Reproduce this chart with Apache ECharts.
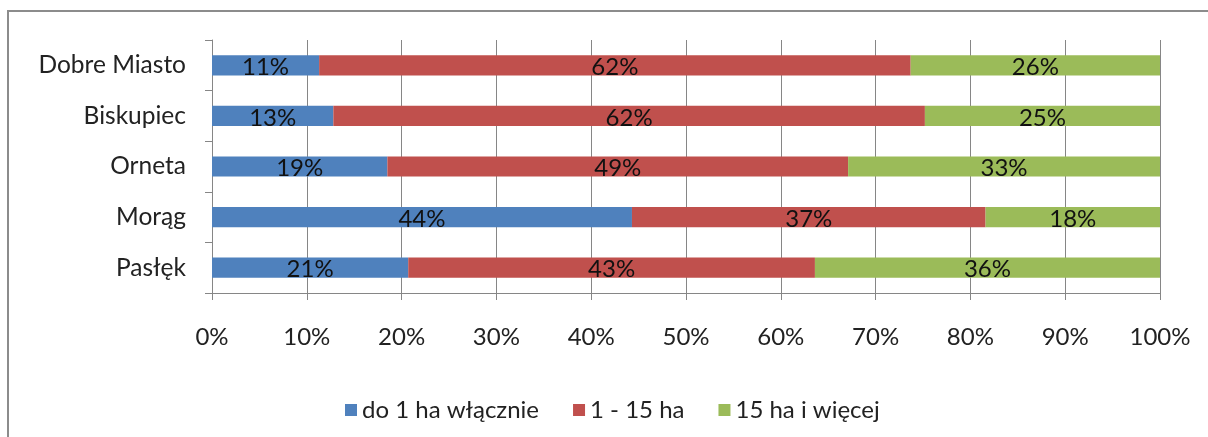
<!DOCTYPE html>
<html>
<head>
<meta charset="utf-8">
<script src="https://cdn.jsdelivr.net/npm/echarts@6/dist/echarts.min.js"></script>
<style>
html,body{margin:0;padding:0;background:#fff;}
#c{width:1208px;height:437px;}
</style>
</head>
<body>
<div id="c"></div>
<script>
var categories = ['Pasłęk', 'Morąg', 'Orneta', 'Biskupiec', 'Dobre Miasto'];
var seriesNames = ['do 1 ha włącznie', '1 - 15 ha', '15 ha i więcej'];
var small = [20.7, 44.3, 18.5, 12.8, 11.3];
var medium = [42.9, 37.3, 48.6, 62.4, 62.4];
var large = [36.4, 18.4, 32.9, 24.8, 26.3];
var xTicks = [0, 10, 20, 30, 40, 50, 60, 70, 80, 90, 100];
var colors = ['#4F81BD', '#C0504D', '#9BBB59'];

var FONT = 'Lato';
var chart = echarts.init(document.getElementById('c'), null, {renderer: 'canvas'});

function mk(name, data, color) {
  return {
    name: name,
    type: 'bar',
    stack: 'total',
    data: data,
    barCategoryGap: '60%',
    itemStyle: {color: color},
    label: {
      show: true,
      position: 'inside',
      color: '#111',
      fontFamily: FONT,
      fontSize: 24,
      offset: [0, 2],
      formatter: function (p) { return Math.round(p.value) + '%'; }
    },
    emphasis: {disabled: true}
  };
}

chart.setOption({
  animation: false,
  graphic: [{
    type: 'rect',
    shape: {x: 8, y: 11, width: 1400, height: 600},
    style: {fill: 'none', stroke: '#8c8c8c', lineWidth: 2},
    silent: true
  }],
  grid: {left: 212, right: 48, top: 40, bottom: 144, containLabel: false},
  legend: {
    left: 340,
    top: 393,
    itemWidth: 12,
    itemHeight: 12,
    itemGap: 34,
    icon: 'rect',
    textStyle: {fontFamily: FONT, fontSize: 24, color: '#222'},
    data: seriesNames
  },
  xAxis: {
    type: 'value',
    min: xTicks[0],
    max: xTicks[xTicks.length - 1],
    interval: 10,
    axisLine: {show: true, lineStyle: {color: '#868686', width: 1}},
    axisTick: {show: true, length: 7, lineStyle: {color: '#868686'}},
    splitLine: {show: true, lineStyle: {color: '#868686', width: 1}},
    axisLabel: {
      margin: 32,
      fontFamily: FONT,
      fontSize: 24,
      color: '#222',
      formatter: function (v) { return v + '%'; }
    }
  },
  yAxis: {
    type: 'category',
    data: categories,
    axisLine: {show: true, lineStyle: {color: '#868686', width: 1}},
    axisTick: {show: true, length: 7, inside: false, lineStyle: {color: '#868686'}},
    axisLabel: {margin: 26, fontFamily: FONT, fontSize: 24.5, color: '#222'}
  },
  series: [
    mk(seriesNames[0], small, colors[0]),
    mk(seriesNames[1], medium, colors[1]),
    mk(seriesNames[2], large, colors[2])
  ]
});
</script>
</body>
</html>
